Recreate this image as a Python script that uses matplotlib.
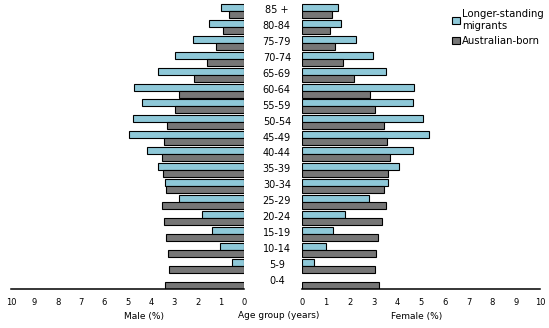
import matplotlib.pyplot as plt
import numpy as np

# age groups, youngest first
ages = ['0-4', '5-9', '10-14', '15-19', '20-24', '25-29', '30-34', '35-39',
        '40-44', '45-49', '50-54', '55-59', '60-64', '65-69', '70-74',
        '75-79', '80-84', '85 +']

# percent of population
male_migrant = [0, 0.52, 1.03, 1.37, 1.80, 2.79, 3.39, 3.69, 4.16,
                4.94, 4.76, 4.38, 4.72, 3.69, 2.96, 2.19, 1.50, 0.99]
male_aus = [3.39, 3.22, 3.26, 3.35, 3.43, 3.52, 3.35, 3.48, 3.52,
            3.43, 3.30, 2.96, 2.79, 2.15, 1.59, 1.20, 0.90, 0.64]
female_migrant = [0, 0.50, 1.01, 1.30, 1.81, 2.82, 3.62, 4.08, 4.67,
                  5.32, 5.09, 4.67, 4.71, 3.53, 2.96, 2.27, 1.64, 1.52]
female_aus = [3.24, 3.07, 3.11, 3.20, 3.37, 3.53, 3.45, 3.62, 3.70,
              3.58, 3.45, 3.07, 2.86, 2.19, 1.73, 1.39, 1.18, 1.26]

xticks = list(range(0, 11))

light = '#8ec8d8'
dark = '#767676'
W, H = 549, 328

fig = plt.figure(figsize=(W / 100, H / 100), dpi=100)
ax_l = fig.add_axes([11.3 / W, (H - 289.3) / H, 233 / W, 289.3 / H])
ax_r = fig.add_axes([302.3 / W, (H - 289.3) / H, 237.7 / W, 289.3 / H])

y = np.arange(len(ages))
h = 0.44

for ax, mig, aus in [(ax_l, male_migrant, male_aus), (ax_r, female_migrant, female_aus)]:
    m = np.array(mig)
    sel = m > 0
    ax.barh(y[sel], m[sel], height=h, align='edge', color=light,
            edgecolor='black', linewidth=0.8, label='Longer-standing\nmigrants')
    ax.barh(y - h, aus, height=h, align='edge', color=dark,
            edgecolor='black', linewidth=0.8, label='Australian-born')
    ax.set_ylim(-0.47, 17.68)
    ax.set_yticks([])
    for s in ['top', 'left', 'right']:
        ax.spines[s].set_visible(False)
    ax.spines['bottom'].set_linewidth(1.1)
    ax.set_xticks(xticks)
    ax.tick_params(axis='x', length=0, pad=6, labelsize=6)

ax_l.set_xlim(10, 0)
ax_r.set_xlim(0, 10)

for i, a in enumerate(ages):
    ax_r.text(-1.07, i + 0.05, a, ha='center', va='center', fontsize=7, clip_on=False)

fig.text(144 / W, 1 - 316 / H, 'Male (%)', ha='center', va='center', fontsize=6.5)
fig.text(279 / W, 1 - 316 / H, 'Age group (years)', ha='center', va='center', fontsize=6.5)
fig.text(417 / W, 1 - 317 / H, 'Female (%)', ha='center', va='center', fontsize=6.5)

handles, labels = ax_r.get_legend_handles_labels()
fig.legend(handles, labels, loc='upper left', bbox_to_anchor=(447 / W, 1 - 4 / H),
           frameon=False, fontsize=7.3, handlelength=0.75, handleheight=0.75,
           handletextpad=0.2, labelspacing=0.55, borderpad=0)

fig.savefig('out.png', dpi=100)
